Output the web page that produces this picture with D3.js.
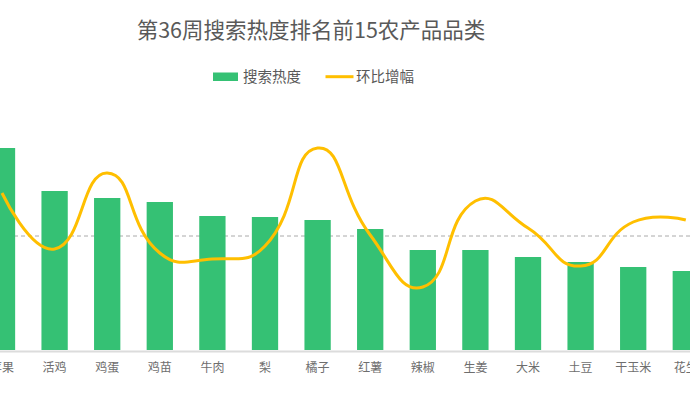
<!DOCTYPE html>
<html>
<head>
<meta charset="utf-8">
<script src="https://cdn.jsdelivr.net/npm/d3@7/dist/d3.min.js"></script>
<style>
  html, body { margin: 0; padding: 0; background: #fff; overflow: hidden; }
  svg { display: block; font-family: "Noto Sans CJK SC", "Noto Sans", sans-serif; }
</style>
</head>
<body>
<svg id="chart" width="690" height="396"></svg>
<script>
// ---- data ----
const categories = ["苹果","活鸡","鸡蛋","鸡苗","牛肉","梨","橘子","红薯","辣椒","生姜","大米","土豆","干玉米","花生"];
const heatValues = [202, 159, 152, 148, 134, 133, 130, 121, 100, 100, 93, 88, 83, 79];
const growthValues = [43, -13, 63, -17, -23, -10, 88, 1, -51, 35, 8, -30, 14, 16];
const titleText = "第36周搜索热度排名前15农产品品类";
const seriesNames = ["搜索热度", "环比增幅"];

// ---- styles ----
const barColor = "#35c174";
const lineColor = "#ffbf00";
const textColor = "#595959";

const svg = d3.select("#chart");

const x = d3.scaleBand().domain(categories).range([-24.3, 712.1])
  .paddingInner(0.5).paddingOuter(0.25);
const yBar = d3.scaleLinear().domain([0, 250]).range([350, 100]);
const yLine = d3.scaleLinear().domain([-100, 100]).range([336, 136]);

// title
svg.append("text")
  .attr("x", 311).attr("y", 38)
  .attr("text-anchor", "middle")
  .attr("font-size", 21.5)
  .attr("fill", textColor)
  .text(titleText);

// legend
const lg = svg.append("g");
lg.append("rect").attr("x", 213).attr("y", 72.5).attr("width", 25).attr("height", 8.5)
  .attr("fill", barColor);
lg.append("text").attr("x", 243).attr("y", 81.5).attr("font-size", 14.5)
  .attr("fill", textColor).text(seriesNames[0]);
lg.append("line").attr("x1", 325.5).attr("x2", 353.5).attr("y1", 76.7).attr("y2", 76.7)
  .attr("stroke", lineColor).attr("stroke-width", 3);
lg.append("text").attr("x", 356).attr("y", 81.5).attr("font-size", 14.5)
  .attr("fill", textColor).text(seriesNames[1]);

// zero dashed line of growth axis
svg.append("line")
  .attr("x1", 0).attr("x2", 690)
  .attr("y1", yLine(0)).attr("y2", yLine(0))
  .attr("stroke", "#aaa").attr("stroke-width", 1)
  .attr("stroke-dasharray", "4,3");

// bars
svg.append("g").selectAll("rect").data(categories).join("rect")
  .attr("x", d => x(d))
  .attr("width", x.bandwidth())
  .attr("y", (d, i) => yBar(heatValues[i]))
  .attr("height", (d, i) => yBar(0) - yBar(heatValues[i]))
  .attr("fill", barColor);

// x axis
const xAxis = svg.append("g")
  .attr("transform", `translate(0,${yBar(0) + 1})`)
  .call(d3.axisBottom(x).tickSize(0).tickPadding(12));
xAxis.select(".domain").attr("stroke", "#dcdcdc").attr("stroke-width", 2);
xAxis.selectAll("text")
  .attr("font-size", 12)
  .attr("fill", "#6e6e6e")
  .attr("font-family", '"Noto Sans CJK SC", sans-serif');

// smooth line (echarts-like bezier smoothing)
const pts = categories.map((c, i) => [x(c) + x.bandwidth() / 2, yLine(growthValues[i])]);
function smoothPath(points, smooth) {
  const p = d3.path();
  const n = points.length;
  p.moveTo(points[0][0], points[0][1]);
  let cpx0 = points[0][0], cpy0 = points[0][1];
  for (let i = 1; i < n; i++) {
    const [x1, y1] = points[i];
    const prev = points[i - 1];
    const next = i < n - 1 ? points[i + 1] : points[i];
    let cpx1, cpy1, ncpx, ncpy;
    if (i < n - 1) {
      const vx = next[0] - prev[0], vy = next[1] - prev[1];
      const d0 = Math.hypot(x1 - prev[0], y1 - prev[1]);
      const d1 = Math.hypot(next[0] - x1, next[1] - y1);
      const r = d1 / (d0 + d1);
      cpx1 = x1 - vx * smooth * (1 - r);
      cpy1 = y1 - vy * smooth * (1 - r);
      ncpx = x1 + vx * smooth * r;
      ncpy = y1 + vy * smooth * r;
    } else {
      cpx1 = x1; cpy1 = y1; ncpx = x1; ncpy = y1;
    }
    p.bezierCurveTo(cpx0, cpy0, cpx1, cpy1, x1, y1);
    cpx0 = ncpx; cpy0 = ncpy;
  }
  return p.toString();
}
svg.append("path")
  .attr("d", smoothPath(pts, 0.5))
  .attr("fill", "none")
  .attr("stroke", lineColor)
  .attr("stroke-width", 3)
  .attr("stroke-linejoin", "round");
</script>
</body>
</html>
